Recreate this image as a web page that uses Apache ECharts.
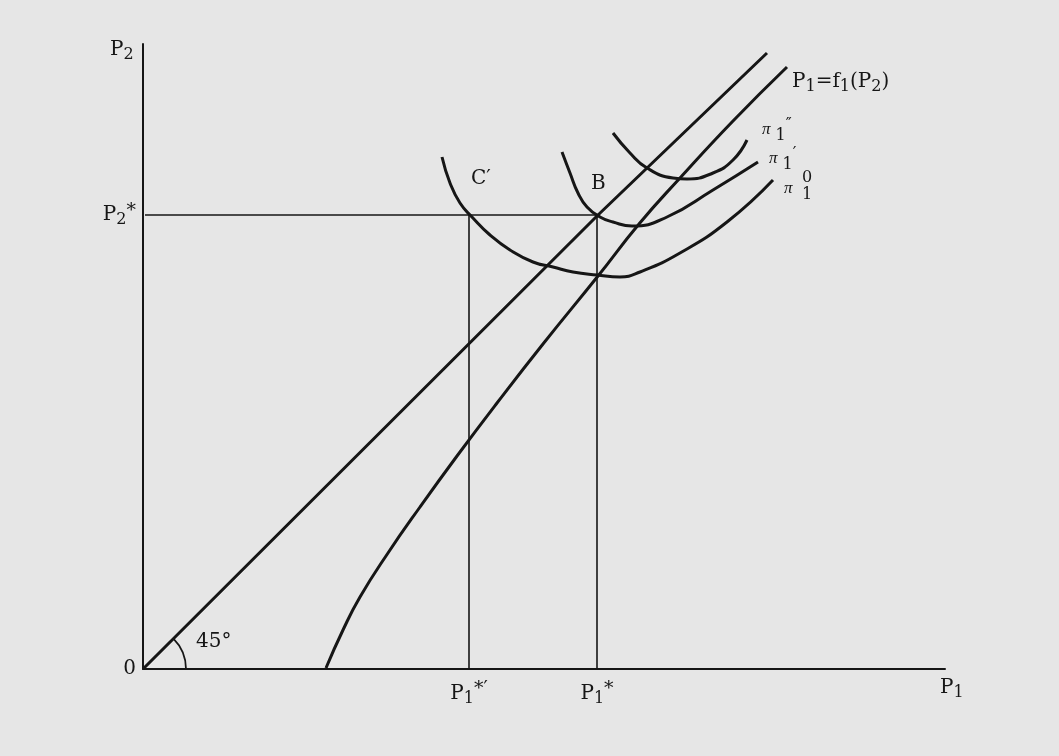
<!DOCTYPE html>
<html>
<head>
<meta charset="utf-8">
<script src="https://cdn.jsdelivr.net/npm/echarts@6/dist/echarts.min.js"></script>
<style>
  html, body { margin: 0; padding: 0; background: #e6e6e6; }
  #chart { width: 1059px; height: 756px; }
</style>
</head>
<body>
<div id="chart"></div>
<script>
// curves (P1 on x, P2 on y, origin = 0)
const diagonal45 = [[0, 0], [455, 454], [624, 616]];
const reactionF1 = [[183, 1], [200, 39], [217, 72], [245, 116], [277, 162], [314, 213], [354, 266], [400, 325], [455, 393], [496, 445], [537, 491], [590, 548], [644, 602]];
const isoProfit0 = [[299, 512], [307, 486], [317, 466], [329, 452], [347, 434], [367, 419], [390, 407], [410, 402], [430, 397], [454, 394], [477, 392], [497, 397], [537, 416], [584, 447], [630, 489]];
const isoProfit1 = [[419, 517], [427, 496], [435, 476], [444, 462], [457, 452], [470, 447], [489, 443], [524, 452], [570, 479], [615, 507]];
const isoProfit2 = [[470, 536], [487, 516], [504, 501], [530, 491], [544, 490], [570, 496], [590, 509], [604, 529]];

// equilibrium levels
const p2Star = 454;
const p1StarPrime = 326;
const p1Star = 454;

const xTicks = [p1StarPrime, p1Star];
const xTickLabels = ['{p|P}{s|1}{t|*′}', '{p|P}{s|1}{t|*}'];
const yTicks = [0, p2Star];
const yTickLabels = ['{p|0}', '{p|P}{s|2}{t|*}'];

const ink = '#161616';
const serif = 'DejaVu Serif';

const rich = {
  p: { fontFamily: serif, fontSize: 20, color: ink },
  s: { fontFamily: serif, fontSize: 16, color: ink, padding: [10, 0, 0, 0] },
  t: { fontFamily: serif, fontSize: 19, color: ink, padding: [0, 0, 8, 0] },
  pi: { fontFamily: 'Liberation Serif', fontSize: 17, fontStyle: 'italic', color: ink, padding: [0, 5, 3, 0] },
  q: { fontFamily: serif, fontSize: 16, color: ink, padding: [0, 0, 12, 0] },
  d: { fontFamily: serif, fontSize: 16, color: ink }
};

const chart = echarts.init(document.getElementById('chart'));

function curve(data, width, smooth) {
  return {
    type: 'line',
    data: data,
    smooth: smooth,
    symbol: 'none',
    silent: true,
    lineStyle: { color: ink, width: width },
    z: 3
  };
}

chart.setOption({
  backgroundColor: '#e6e6e6',
  animation: false,
  grid: { left: 143, top: 44, width: 802, height: 625 },
  xAxis: {
    type: 'value', min: 0, max: 802,
    axisLine: { lineStyle: { color: ink, width: 2 } },
    axisTick: { show: false },
    splitLine: { show: false },
    axisLabel: {
      customValues: xTicks,
      margin: 11,
      formatter: v => xTickLabels[xTicks.indexOf(v)],
      rich: rich
    }
  },
  yAxis: {
    type: 'value', min: 0, max: 625,
    axisLine: { lineStyle: { color: ink, width: 2 } },
    axisTick: { show: false },
    splitLine: { show: false },
    axisLabel: {
      customValues: yTicks,
      margin: 7,
      formatter: v => yTickLabels[yTicks.indexOf(v)],
      rich: rich
    }
  },
  series: [
    curve([[2, p2Star], [p1Star, p2Star]], 1.6, false),
    curve([[p1StarPrime, 0], [p1StarPrime, p2Star]], 1.6, false),
    curve([[p1Star, 0], [p1Star, p2Star]], 1.6, false),
    curve(diagonal45, 3, false),
    curve(reactionF1, 3, 0.5),
    curve(isoProfit0, 3, 0.5),
    curve(isoProfit1, 3, 0.5),
    curve(isoProfit2, 3, 0.5)
  ]
});

const origin = chart.convertToPixel({ gridIndex: 0 }, [0, 0]);

function label(id, x, y, text) {
  return { id: id, type: 'text', left: x, top: y, style: { text: text, rich: rich, fill: ink } };
}

chart.setOption({
  graphic: [
    {
      id: 'angle', type: 'arc',
      shape: { cx: origin[0], cy: origin[1], r: 43, startAngle: -Math.PI / 4, endAngle: 0 },
      style: { stroke: ink, lineWidth: 1.8, fill: null }
    },
    label('deg', 196, 632, '{p|45°}'),
    label('p2', 110, 40, '{p|P}{s|2}'),
    label('p1', 940, 678, '{p|P}{s|1}'),
    label('cp', 471, 169, '{p|C′}'),
    label('b', 591, 174, '{p|B}'),
    label('f1', 792, 72, '{p|P}{s|1}{p|=f}{s|1}{p|(P}{s|2}{p|)}'),
    label('pi2', 762, 117, '{pi|π}{s|1}{q|″}'),
    label('pi1', 769, 146, '{pi|π}{s|1}{q|′}'),
    label('pi0', 784, 180, '{pi|π}'),
    label('pi0a', 802, 170, '{d|0}'),
    label('pi0b', 802, 187, '{d|1}')
  ]
});
</script>
</body>
</html>
